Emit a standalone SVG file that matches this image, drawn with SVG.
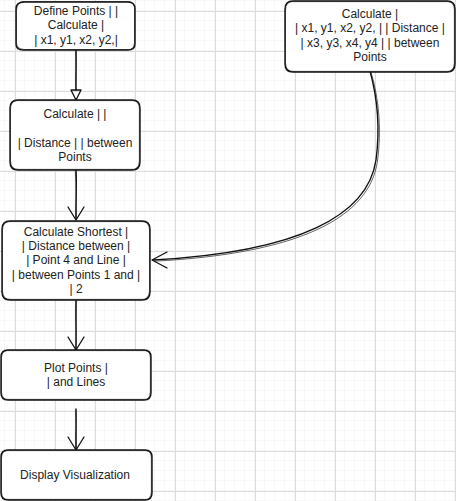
<svg xmlns="http://www.w3.org/2000/svg" width="456" height="501" viewBox="0 0 456 501">
  <defs>
    <pattern id="minor" x="5" y="1" width="10" height="10" patternUnits="userSpaceOnUse">
      <path d="M10,0 V10 M0,10 H10" fill="none" stroke="#f1f1f1" stroke-width="1"/>
    </pattern>
    <pattern id="major" x="15" y="11" width="40" height="40" patternUnits="userSpaceOnUse">
      <path d="M0.5,0 V40 M0,0.5 H40" fill="none" stroke="#dcdcdc" stroke-width="1"/>
    </pattern>
  </defs>
  <style>
    .box { fill: #ffffff; stroke: #111111; stroke-width: 1.4; }
    .box2 { fill: none; stroke: #222222; stroke-width: 0.8; }
    .edge { fill: none; stroke: #111111; stroke-width: 1.4; stroke-linecap: round; }
    .edge2 { fill: none; stroke: #222222; stroke-width: 0.7; }
    .head { fill: none; stroke: #111111; stroke-width: 1.3; stroke-linejoin: round; stroke-linecap: round; }
    text { font-family: "Liberation Sans", Arial, sans-serif; font-size: 12px; fill: #222222; text-anchor: middle; }
  </style>

  <!-- background grid -->
  <rect width="456" height="501" fill="#ffffff"/>
  <rect width="456" height="501" fill="url(#minor)"/>
  <rect width="456" height="501" fill="url(#major)"/>

  <!-- connectors -->
  <g id="connectors">
    <path class="edge" d="M76,50 C76.5,65 75.5,78 76,90"/>
    <path class="edge2" d="M75.5,51 C76,66 76.5,78 75.8,90"/>
    <path class="head" d="M71,90 L81,90 L76,100 Z" fill="#ffffff"/>

    <path class="edge" d="M76,170 C77,185 75.5,205 76,219"/>
    <path class="edge2" d="M75.3,171 C76.5,186 76,204 76.6,219"/>
    <path class="head" d="M68,207 L76,220 L84,207"/>

    <path class="edge" d="M76,300 C75.5,315 76.5,335 76,349"/>
    <path class="edge2" d="M76.6,301 C76,316 76.2,335 75.6,349"/>
    <path class="head" d="M68,337 L76,350 L84,337"/>

    <path class="edge" d="M76,409 C76.5,420 75.5,437 76,449"/>
    <path class="edge2" d="M75.4,410 C76.2,421 76.3,437 76.5,449"/>
    <path class="head" d="M68,437 L76,450 L84,437"/>

    <path class="edge" d="M370,71 C378,100 380,130 376,160 C368,215 300,252 153,260"/>
    <path class="edge2" d="M371,72 C379.5,101 381.5,131 377.5,161 C369.5,217 301,253.5 154,261.2"/>
    <path class="head" d="M167,252 L152,260 L167,268"/>
  </g>

  <g id="node-define">
    <path class="box" d="M24,2 H128 Q135,2 135,9 V44 Q135,50 128,50 H23 Q16,50 16,44 V9 Q16,2 24,2 Z"/>
    <path class="box2" d="M23,1.5 H129 Q135.5,3 134.5,10 V43 Q134,50.5 127,49.5 H24 Q16.5,49 16.5,43 V10 Q17,2.5 23,1.5 Z"/>
    <text x="76" y="15">Define Points | |</text>
    <text x="76" y="29">Calculate |</text>
    <text x="76" y="44">| x1, y1, x2, y2,|</text>
  </g>

  <g id="node-distance">
    <path class="box" d="M18,100 H132 Q140,100 140,108 V162 Q140,170 132,170 H18 Q10,170 10,162 V108 Q10,100 18,100 Z"/>
    <path class="box2" d="M17,100.6 H133 Q139.5,101 139.4,109 V161 Q139,170.5 131,169.4 H19 Q10.6,170 10.5,161 V109 Q10.5,101 17,100.6 Z"/>
    <text x="75" y="118">Calculate | |</text>
    <text x="75" y="147">| Distance | | between</text>
    <text x="75" y="161">Points</text>
  </g>

  <g id="node-shortest">
    <path class="box" d="M10,221 H142 Q150,221 150,229 V292 Q150,300 142,300 H10 Q2,300 2,292 V229 Q2,221 10,221 Z"/>
    <path class="box2" d="M9,221.6 H143 Q149.4,222 149.5,230 V291 Q149,300.5 141,299.4 H11 Q2.6,300 2.5,291 V230 Q2.6,222 9,221.6 Z"/>
    <text x="76" y="236">Calculate Shortest |</text>
    <text x="76" y="250">| Distance between |</text>
    <text x="76" y="264">| Point 4 and Line |</text>
    <text x="76" y="279">| between Points 1 and |</text>
    <text x="76" y="293">| 2</text>
  </g>

  <g id="node-plot">
    <path class="box" d="M8,350 H144 Q151,350 151,357 V393 Q151,400 144,400 H8 Q1,400 1,393 V357 Q1,350 8,350 Z"/>
    <path class="box2" d="M7,350.6 H145 Q150.5,351 150.4,358 V392 Q150,400.5 143,399.4 H9 Q1.6,400 1.5,392 V358 Q1.6,351 7,350.6 Z"/>
    <text x="76" y="372">Plot Points |</text>
    <text x="76" y="386">| and Lines</text>
  </g>

  <g id="node-display">
    <path class="box" d="M8,450 H145 Q152,450 152,457 V493 Q152,500 145,500 H8 Q1,500 1,493 V457 Q1,450 8,450 Z"/>
    <path class="box2" d="M7,450.6 H146 Q151.5,451 151.4,458 V492 Q151,500.5 144,499.4 H9 Q1.6,500 1.5,492 V458 Q1.6,451 7,450.6 Z"/>
    <text x="75" y="479">Display Visualization</text>
  </g>

  <g id="node-calc-right">
    <path class="box" d="M293,1 H447 Q455,1 455,9 V64 Q455,72 447,72 H293 Q285,72 285,64 V9 Q285,1 293,1 Z"/>
    <path class="box2" d="M292,1.6 H448 Q454.5,2 454.4,10 V63 Q454,72.5 446,71.4 H294 Q285.6,72 285.5,63 V10 Q285.6,2 292,1.6 Z"/>
    <text x="370" y="18">Calculate |</text>
    <text x="370" y="32">| x1, y1, x2, y2, | | Distance |</text>
    <text x="370" y="47">| x3, y3, x4, y4 | | between</text>
    <text x="370" y="61">Points</text>
  </g>
</svg>
